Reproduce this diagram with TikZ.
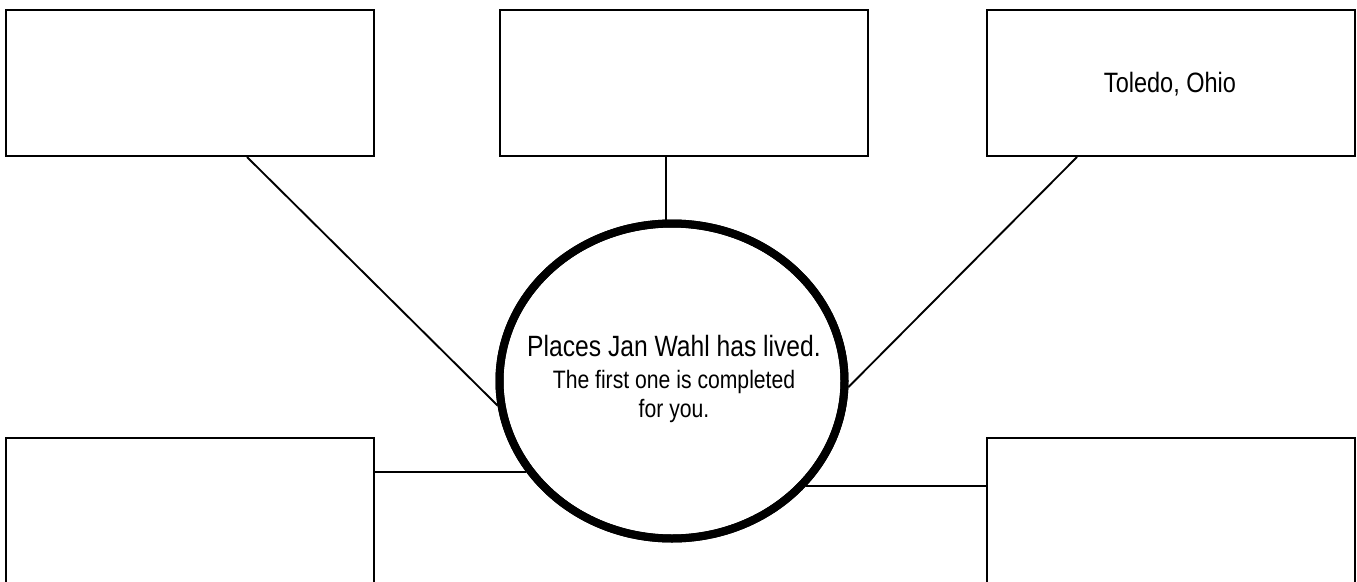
\documentclass[tikz,border=0pt]{standalone}
\usepackage{fontspec}
\setmainfont{Liberation Sans}[FakeStretch=0.84]
\usetikzlibrary{shapes.geometric}
\begin{document}
\begin{tikzpicture}[x=0.75pt,y=-0.75pt,
  box/.style={draw=black,line width=1.5pt,fill=white,rectangle,minimum width=276pt,minimum height=109.5pt,inner sep=0pt},
  lowbox/.style={box,minimum height=120pt},
  hub/.style={draw=black,line width=6pt,fill=white,ellipse,minimum width=258.75pt,minimum height=236.25pt,inner sep=0pt},
  link/.style={draw=black,line width=1.4pt},
  big/.style={font=\fontsize{22}{24}\selectfont,inner sep=0pt,anchor=base},
  small/.style={font=\fontsize{18.9}{20}\selectfont,inner sep=0pt,anchor=base}]
\useasboundingbox (0,0) rectangle (1357,582);
\clip (0,0) rectangle (1357,582);
\fill[white] (0,0) rectangle (1357,582);
% boxes
\node[box] (tl) at (190,83) {};
\node[box] (tm) at (684,83) {};
\node[box] (tr) at (1171,83) {};
\node[lowbox] (bl) at (190,518) {};
\node[lowbox] (br) at (1171,518) {};
% connectors
\coordinate (tmfoot) at (666,157);
\coordinate (tlfoot) at (247,157);
\coordinate (trfoot) at (1077,157);
\node[hub] (c) at (672,381) {};
\draw[link] (tlfoot) -- (c.188);
\draw[link] (trfoot) -- (c.-2);
\draw[link] (tmfoot) -- (tmfoot |- c.north);
\draw[link] (c.212 -| bl.east) -- (c.212);
\draw[link] (c.-38 -| br.west) -- (c.-38);
\node[hub,fill=none] (c2) at (c.center) {};
% texts
\node[big] (t1) at (674,356) {Places Jan Wahl has lived.};
\node[small] (t2) at (674,388) {The first one is completed};
\node[small] (t3) at (674,417) {for you.};
\node[big,font=\fontsize{21}{24}\selectfont] (toledo) at (1170,92) {Toledo, Ohio};
\end{tikzpicture}
\end{document}
